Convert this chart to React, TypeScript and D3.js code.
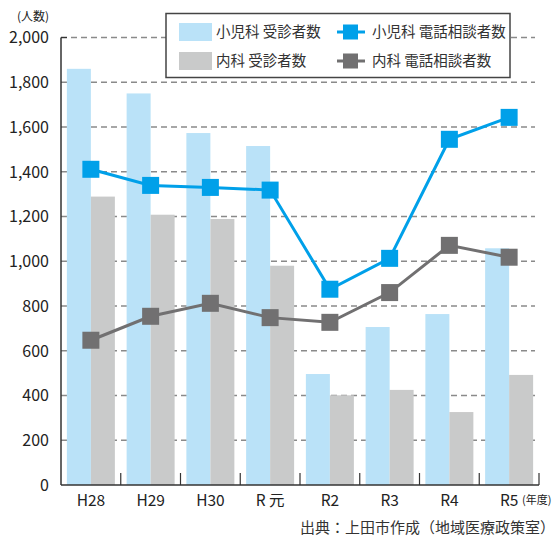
import React from "react";
import * as d3 from "d3";

// 年度
const years = ["H28", "H29", "H30", "R 元", "R2", "R3", "R4", "R5"];
// 小児科 受診者数
const pedVisits = [1860, 1750, 1573, 1515, 496, 706, 764, 1058];
// 内科 受診者数
const intVisits = [1289, 1208, 1189, 980, 401, 425, 326, 492];
// 小児科 電話相談者数
const pedPhone = [1411, 1339, 1330, 1318, 875, 1013, 1545, 1643];
// 内科 電話相談者数
const intPhone = [647, 754, 812, 748, 727, 860, 1071, 1018];
const yTicks = [0, 200, 400, 600, 800, 1000, 1200, 1400, 1600, 1800, 2000];

const C_PED_BAR = "#bae2f8";
const C_INT_BAR = "#c9caca";
const C_PED_LINE = "#00a0e9";
const C_INT_LINE = "#717071";
const FONT = "'Noto Sans CJK JP', 'Noto Sans', sans-serif";

export default function App() {
  const width = 558;
  const height = 538;
  const m = { left: 61, right: 19, top: 37.5, bottom: 53 };

  const x = d3.scaleBand().domain(years).range([m.left, width - m.right]);
  const y = d3.scaleLinear().domain([0, 2000]).range([height - m.bottom, m.top]);
  const barW = 24;
  const cx = (d: string) => (x(d) ?? 0) + x.bandwidth() / 2;

  const line = d3
    .line<number>()
    .x((_, i) => cx(years[i]))
    .y((v) => y(v));

  const marker = 17;

  return (
    <svg
      width={width}
      height={height}
      style={{ position: "absolute", left: 0, top: 0, fontFamily: FONT }}
    >
      <rect width={width} height={height} fill="#fff" />
      {/* grid */}
      {yTicks
        .filter((t) => t > 0)
        .map((t) => (
          <line
            key={t}
            x1={m.left}
            x2={width - m.right - 4}
            y1={y(t)}
            y2={y(t)}
            stroke="#8a8a8a"
            strokeWidth={1.3}
            strokeDasharray="6,4"
          />
        ))}
      {/* bars */}
      {years.map((yr, i) => (
        <g key={yr}>
          <rect
            x={cx(yr) - barW}
            y={y(pedVisits[i])}
            width={barW}
            height={y(0) - y(pedVisits[i])}
            fill={C_PED_BAR}
          />
          <rect
            x={cx(yr)}
            y={y(intVisits[i])}
            width={barW}
            height={y(0) - y(intVisits[i])}
            fill={C_INT_BAR}
          />
        </g>
      ))}
      {/* lines */}
      <path d={line(pedPhone) ?? ""} fill="none" stroke={C_PED_LINE} strokeWidth={3} />
      <path d={line(intPhone) ?? ""} fill="none" stroke={C_INT_LINE} strokeWidth={3} />
      {pedPhone.map((v, i) => (
        <rect
          key={"p" + i}
          x={cx(years[i]) - marker / 2}
          y={y(v) - marker / 2}
          width={marker}
          height={marker}
          fill={C_PED_LINE}
        />
      ))}
      {intPhone.map((v, i) => (
        <rect
          key={"n" + i}
          x={cx(years[i]) - marker / 2}
          y={y(v) - marker / 2}
          width={marker}
          height={marker}
          fill={C_INT_LINE}
        />
      ))}
      {/* axes */}
      <line x1={m.left} x2={m.left} y1={y(2000)} y2={y(0)} stroke="#333" strokeWidth={1.5} />
      <line x1={m.left} x2={m.left + 6} y1={y(2000)} y2={y(2000)} stroke="#333" strokeWidth={1.2} />
      <line x1={m.left} x2={width - m.right} y1={y(0)} y2={y(0)} stroke="#333" strokeWidth={1.5} />
      {years.map((yr) => (
        <line
          key={"t" + yr}
          x1={(x(yr) ?? 0) + x.bandwidth()}
          x2={(x(yr) ?? 0) + x.bandwidth()}
          y1={y(0)}
          y2={y(0) - 12}
          stroke="#333"
          strokeWidth={1.2}
        />
      ))}
      {yTicks.map((t) => (
        <text
          key={"y" + t}
          x={49}
          y={y(t)}
          dy="0.36em"
          textAnchor="end"
          fontSize={16}
          fill="#222"
        >
          {d3.format(",")(t)}
        </text>
      ))}
      <text x={17} y={21} fontSize={12} fill="#222">
        (人数)
      </text>
      {years.map((yr) => (
        <text key={"x" + yr} x={cx(yr)} y={506} textAnchor="middle" fontSize={15.5} fill="#222">
          {yr}
        </text>
      ))}
      <text x={522} y={504} fontSize={11} fill="#222">
        (年度)
      </text>
      <text x={555} y={533} textAnchor="end" fontSize={15} fill="#333">
        出典：上田市作成（地域医療政策室）
      </text>
      {/* legend */}
      <g>
        <rect x={166} y={13.5} width={344} height={64} fill="#fff" stroke="#444" strokeWidth={1.5} />
        <rect x={179} y={23} width={33} height={18} fill={C_PED_BAR} />
        <text x={216} y={32} dy="0.36em" fontSize={14.5} fill="#333">
          小児科 受診者数
        </text>
        <rect x={179} y={52} width={33} height={18} fill={C_INT_BAR} />
        <text x={216} y={61} dy="0.36em" fontSize={14.5} fill="#333">
          内科 受診者数
        </text>
        <line x1={337} x2={365} y1={32} y2={32} stroke={C_PED_LINE} strokeWidth={3} />
        <rect x={343} y={24.5} width={15} height={15} fill={C_PED_LINE} />
        <text x={372} y={32} dy="0.36em" fontSize={14.5} fill="#333">
          小児科 電話相談者数
        </text>
        <line x1={337} x2={365} y1={61} y2={61} stroke={C_INT_LINE} strokeWidth={3} />
        <rect x={343} y={53.5} width={15} height={15} fill={C_INT_LINE} />
        <text x={372} y={61} dy="0.36em" fontSize={14.5} fill="#333">
          内科 電話相談者数
        </text>
      </g>
    </svg>
  );
}
